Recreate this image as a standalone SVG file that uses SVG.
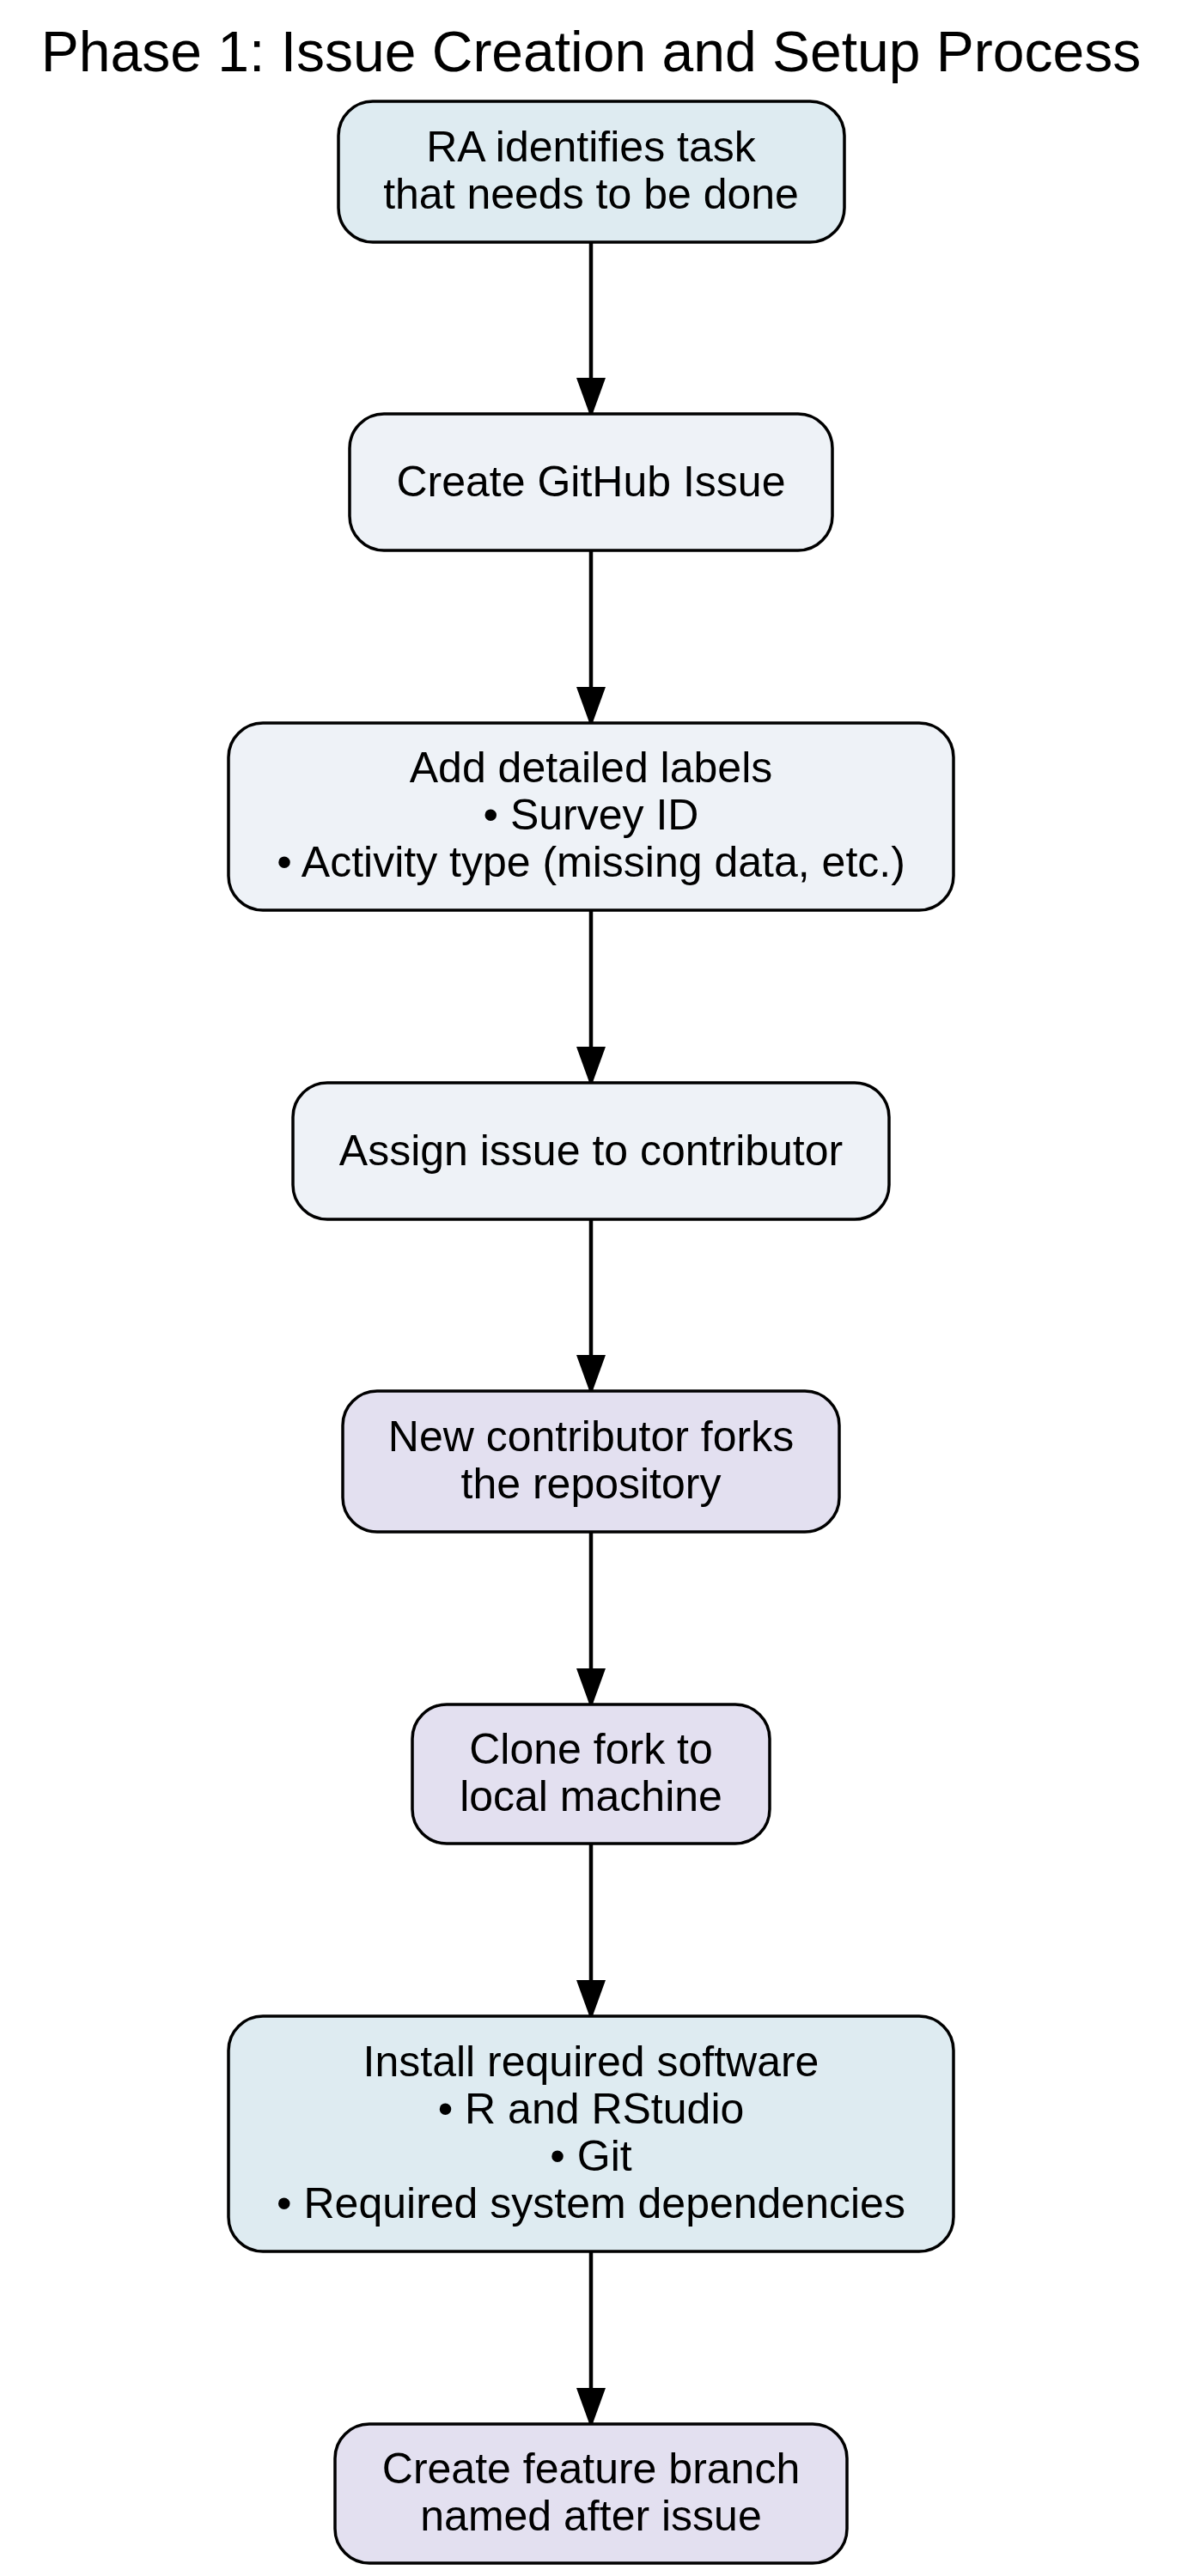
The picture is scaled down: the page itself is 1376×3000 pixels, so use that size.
<svg xmlns="http://www.w3.org/2000/svg" width="1376" height="3000" viewBox="0 0 1376 3000">
<defs>
<style>
.bg{fill:#ffffff}
.title{font-family:"Liberation Sans",Arial,sans-serif;font-size:66px;fill:#000;text-anchor:middle}
.node rect{stroke:#000;stroke-width:3.5}
.node text{font-family:"Liberation Sans",Arial,sans-serif;font-size:50px;fill:#000;text-anchor:middle}
.blue{fill:#deebf1}
.gray{fill:#eef2f7}
.lav{fill:#e3e0f0}
.edge{stroke:#000;stroke-width:4.5;fill:none}
</style>
<marker id="ah" markerUnits="userSpaceOnUse" viewBox="0 0 47 34" refX="47" refY="17" markerWidth="47" markerHeight="34" orient="auto">
<polygon points="0,0 47,17 0,34" fill="#000"/>
</marker>
</defs>
<rect class="bg" x="0" y="0" width="1376" height="3000"/>
<text class="title" x="688" y="83">Phase 1: Issue Creation and Setup Process</text>

<g id="connectors">
<path class="edge" d="M688,282 L688,487" marker-end="url(#ah)"/>
<path class="edge" d="M688,641 L688,847" marker-end="url(#ah)"/>
<path class="edge" d="M688,1060 L688,1266" marker-end="url(#ah)"/>
<path class="edge" d="M688,1420 L688,1625" marker-end="url(#ah)"/>
<path class="edge" d="M688,1784 L688,1990" marker-end="url(#ah)"/>
<path class="edge" d="M688,2147 L688,2353" marker-end="url(#ah)"/>
<path class="edge" d="M688,2622 L688,2828" marker-end="url(#ah)"/>
</g>

<g id="n1" class="node">
<rect class="blue" x="394" y="118" width="589" height="164" rx="40"/>
<text x="688" y="188">RA identifies task</text>
<text x="688" y="243">that needs to be done</text>
</g>
<g id="n2" class="node">
<rect class="gray" x="407" y="482" width="562" height="159" rx="40"/>
<text x="688" y="578">Create GitHub Issue</text>
</g>
<g id="n3" class="node">
<rect class="gray" x="266" y="842" width="844" height="218" rx="40"/>
<text x="688" y="911">Add detailed labels</text>
<text x="688" y="966">• Survey ID</text>
<text x="688" y="1021">• Activity type (missing data, etc.)</text>
</g>
<g id="n4" class="node">
<rect class="gray" x="341" y="1261" width="694" height="159" rx="40"/>
<text x="688" y="1357">Assign issue to contributor</text>
</g>
<g id="n5" class="node">
<rect class="lav" x="399" y="1620" width="578" height="164" rx="40"/>
<text x="688" y="1690">New contributor forks</text>
<text x="688" y="1745">the repository</text>
</g>
<g id="n6" class="node">
<rect class="lav" x="480" y="1985" width="416" height="162" rx="40"/>
<text x="688" y="2054">Clone fork to</text>
<text x="688" y="2109">local machine</text>
</g>
<g id="n7" class="node">
<rect class="blue" x="266" y="2348" width="844" height="274" rx="40"/>
<text x="688" y="2418">Install required software</text>
<text x="688" y="2473">• R and RStudio</text>
<text x="688" y="2528">• Git</text>
<text x="688" y="2583">• Required system dependencies</text>
</g>
<g id="n8" class="node">
<rect class="lav" x="390" y="2823" width="596" height="162" rx="40"/>
<text x="688" y="2892">Create feature branch</text>
<text x="688" y="2947">named after issue</text>
</g>
</svg>
